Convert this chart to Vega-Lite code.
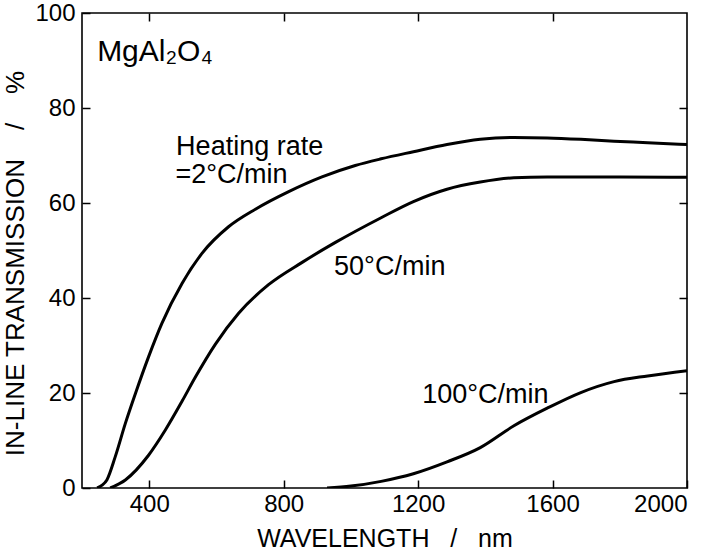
{
  "$schema": "https://vega.github.io/schema/vega-lite/v6.json",
  "width": 605,
  "height": 475,
  "autosize": "none",
  "padding": {"left": 82, "top": 13, "right": 30, "bottom": 64},
  "background": "white",
  "config": {
    "view": {"stroke": "#000", "strokeWidth": 1.6},
    "axis": {"grid": false, "domain": false, "tickColor": "#000", "tickWidth": 1.5, "labelColor": "#000", "titleColor": "#000", "labelFont": "Liberation Sans", "titleFont": "Liberation Sans", "labelFontSize": 24, "titleFontSize": 25, "titleFontWeight": "normal"}
  },
  "datasets": {
    "curves": [
      {"series": "2", "wl": 245, "t": 0},
      {"series": "2", "wl": 260, "t": 0.6},
      {"series": "2", "wl": 274, "t": 1.7},
      {"series": "2", "wl": 299, "t": 6.6},
      {"series": "2", "wl": 329, "t": 13.6},
      {"series": "2", "wl": 359, "t": 19.9},
      {"series": "2", "wl": 398, "t": 27.6},
      {"series": "2", "wl": 438, "t": 34.7},
      {"series": "2", "wl": 498, "t": 43.1},
      {"series": "2", "wl": 557, "t": 49.4},
      {"series": "2", "wl": 636, "t": 55.0},
      {"series": "2", "wl": 716, "t": 58.7},
      {"series": "2", "wl": 815, "t": 62.4},
      {"series": "2", "wl": 914, "t": 65.5},
      {"series": "2", "wl": 1013, "t": 67.9},
      {"series": "2", "wl": 1090, "t": 69.3},
      {"series": "2", "wl": 1186, "t": 70.8},
      {"series": "2", "wl": 1286, "t": 72.3},
      {"series": "2", "wl": 1385, "t": 73.4},
      {"series": "2", "wl": 1485, "t": 73.8},
      {"series": "2", "wl": 1584, "t": 73.7},
      {"series": "2", "wl": 1684, "t": 73.4},
      {"series": "2", "wl": 1783, "t": 73.0},
      {"series": "2", "wl": 1883, "t": 72.7},
      {"series": "2", "wl": 2000, "t": 72.3},
      {"series": "50", "wl": 284, "t": 0},
      {"series": "50", "wl": 329, "t": 1.7},
      {"series": "50", "wl": 398, "t": 6.9},
      {"series": "50", "wl": 448, "t": 12.2},
      {"series": "50", "wl": 498, "t": 18.3},
      {"series": "50", "wl": 537, "t": 23.3},
      {"series": "50", "wl": 597, "t": 30.3},
      {"series": "50", "wl": 666, "t": 36.8},
      {"series": "50", "wl": 755, "t": 42.8},
      {"series": "50", "wl": 855, "t": 47.5},
      {"series": "50", "wl": 954, "t": 51.7},
      {"series": "50", "wl": 1090, "t": 56.9},
      {"series": "50", "wl": 1186, "t": 60.3},
      {"series": "50", "wl": 1286, "t": 62.9},
      {"series": "50", "wl": 1385, "t": 64.4},
      {"series": "50", "wl": 1485, "t": 65.3},
      {"series": "50", "wl": 1584, "t": 65.5},
      {"series": "50", "wl": 1800, "t": 65.5},
      {"series": "50", "wl": 2000, "t": 65.4},
      {"series": "100", "wl": 929, "t": 0},
      {"series": "100", "wl": 1000, "t": 0.4},
      {"series": "100", "wl": 1090, "t": 1.4},
      {"series": "100", "wl": 1186, "t": 3.0},
      {"series": "100", "wl": 1286, "t": 5.5},
      {"series": "100", "wl": 1385, "t": 8.5},
      {"series": "100", "wl": 1485, "t": 13.1},
      {"series": "100", "wl": 1584, "t": 16.8},
      {"series": "100", "wl": 1684, "t": 20.1},
      {"series": "100", "wl": 1783, "t": 22.4},
      {"series": "100", "wl": 1883, "t": 23.6},
      {"series": "100", "wl": 2000, "t": 24.7}
    ],
    "title": [
      {"label": "MgAl₂O₄", "wl": 245, "t": 90.0}
    ],
    "notes": [
      {"label": "Heating rate", "wl": 480, "t": 70.1},
      {"label": "=2°C/min", "wl": 478, "t": 64.3},
      {"label": "50°C/min", "wl": 950, "t": 44.8},
      {"label": "100°C/min", "wl": 1212, "t": 17.8}
    ]
  },
  "layer": [
    {
      "data": {"name": "curves"},
      "mark": {"type": "line", "interpolate": "monotone", "stroke": "#000", "strokeWidth": 3, "clip": true},
      "encoding": {
        "x": {"field": "wl", "type": "quantitative", "scale": {"domain": [200, 2000], "nice": false, "zero": false},
              "axis": {"orient": "bottom", "values": [400, 800, 1200, 1600, 2000], "format": "d", "tickSize": -8, "labelPadding": 12, "title": "WAVELENGTH\u00a0\u00a0\u00a0/\u00a0\u00a0\u00a0nm", "titlePadding": 10}},
        "y": {"field": "t", "type": "quantitative", "scale": {"domain": [0, 100], "nice": false},
              "axis": {"orient": "left", "values": [0, 20, 40, 60, 80, 100], "format": "d", "tickSize": -8, "labelPadding": 15, "title": "IN-LINE TRANSMISSION\u00a0\u00a0\u00a0\u00a0/\u00a0\u00a0\u00a0\u00a0%", "titleFontSize": 26, "titleY": 250, "titlePadding": 6}},
        "detail": {"field": "series", "type": "nominal"}
      }
    },
    {
      "data": {"name": "title"},
      "mark": {"type": "text", "align": "left", "baseline": "alphabetic", "font": "Liberation Sans", "fontSize": 30, "color": "#000"},
      "encoding": {
        "x": {"field": "wl", "type": "quantitative", "axis": {"orient": "top", "values": [400, 800, 1200, 1600], "tickSize": -8, "labels": false, "title": null}},
        "y": {"field": "t", "type": "quantitative", "axis": {"orient": "right", "values": [20, 40, 60, 80], "tickSize": -8, "labels": false, "title": null}},
        "text": {"field": "label"}
      }
    },
    {
      "data": {"name": "notes"},
      "mark": {"type": "text", "align": "left", "baseline": "alphabetic", "font": "Liberation Sans", "fontSize": 27, "color": "#000"},
      "encoding": {
        "x": {"field": "wl", "type": "quantitative", "axis": null},
        "y": {"field": "t", "type": "quantitative", "axis": null},
        "text": {"field": "label"}
      }
    }
  ],
  "resolve": {"axis": {"x": "independent", "y": "independent"}}
}
